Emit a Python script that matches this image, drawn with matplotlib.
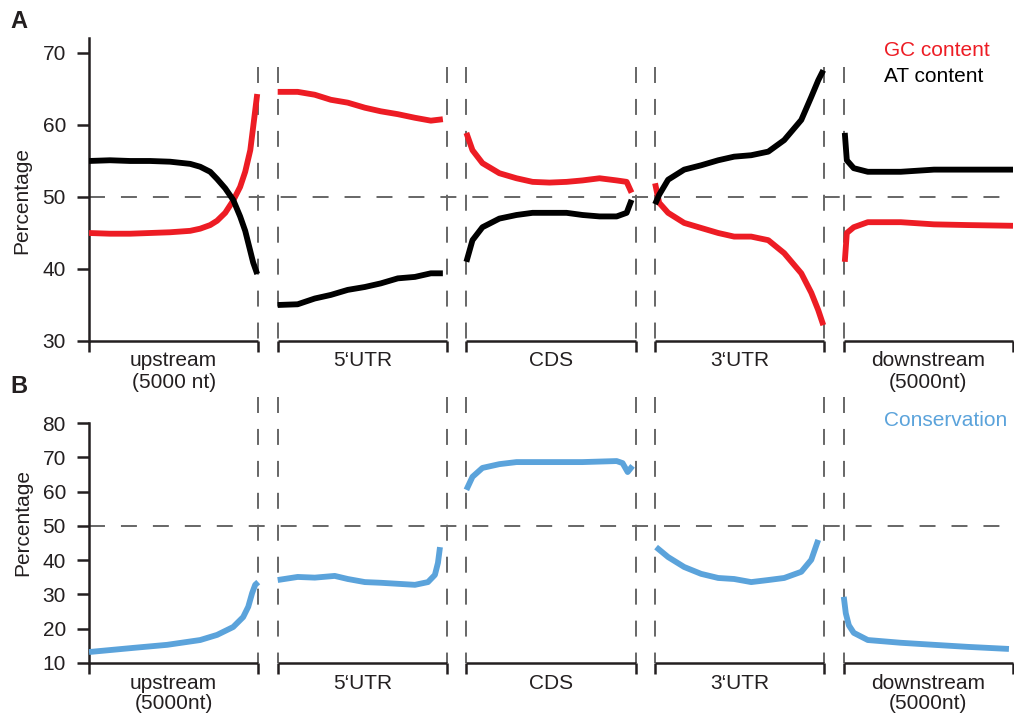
import matplotlib
matplotlib.use("Agg")
import matplotlib.pyplot as plt
import matplotlib.transforms as mtransforms
import numpy as np

plt.rcParams['font.family'] = ['Liberation Sans', 'DejaVu Sans']
plt.rcParams['lines.scale_dashes'] = False

# ---------------- data ----------------
segments_A = ["upstream\n(5000 nt)", "5\u2018UTR", "CDS", "3\u2018UTR", "downstream\n(5000nt)"]
segments_B = ["upstream\n(5000nt)", "5\u2018UTR", "CDS", "3\u2018UTR", "downstream\n(5000nt)"]

# Panel A: relative position within each segment (0..1), GC and AT percentage
a_pos_up = [0, .124, .243, .361, .479, .598, .657, .716, .757, .805, .852, .893, .923, .953, .970, .994]
gc_up = [45.0, 44.9, 44.9, 45.0, 45.1, 45.3, 45.6, 46.1, 46.7, 47.8, 49.5, 51.4, 53.5, 56.5, 59.7, 64.3]
at_up = [55.0, 55.1, 55.0, 55.0, 54.9, 54.6, 54.2, 53.5, 52.5, 51.2, 49.6, 47.3, 45.3, 42.5, 40.9, 39.3]

a_pos_5utr = [0, .118, .219, .314, .414, .515, .609, .710, .811, .905, .976]
gc_5utr = [64.6, 64.6, 64.2, 63.5, 63.1, 62.4, 61.9, 61.5, 61.0, 60.6, 60.8]
at_5utr = [35.0, 35.1, 35.9, 36.4, 37.1, 37.5, 38.0, 38.7, 38.9, 39.4, 39.4]

a_pos_cds = [0, .036, .095, .195, .296, .391, .491, .592, .686, .787, .888, .947, .976]
gc_cds = [58.9, 56.5, 54.7, 53.3, 52.6, 52.1, 52.0, 52.1, 52.3, 52.6, 52.3, 52.1, 50.6]
at_cds = [41.0, 44.0, 45.8, 47.0, 47.5, 47.8, 47.8, 47.8, 47.5, 47.3, 47.3, 47.8, 49.6]

a_pos_3utr = [0, .024, .077, .172, .272, .373, .467, .568, .669, .763, .864, .923, .964, .994]
gc_3utr = [51.9, 49.2, 47.8, 46.4, 45.7, 45.0, 44.5, 44.5, 44.0, 42.2, 39.4, 36.7, 34.3, 32.2]
at_3utr = [49.0, 50.3, 52.4, 53.8, 54.4, 55.1, 55.6, 55.8, 56.3, 57.9, 60.7, 63.9, 66.2, 67.6]

a_pos_down = [.006, .018, .059, .142, .337, .533, .734, 1.0]
gc_down = [41.0, 45.0, 45.8, 46.5, 46.5, 46.2, 46.1, 46.0]
at_down = [58.9, 55.1, 54.0, 53.5, 53.5, 53.8, 53.8, 53.8]

# Panel B: conservation
b_pos_up = [0, .260, .462, .657, .757, .852, .911, .941, .964, .982, 1.0]
cons_up = [13.2, 14.4, 15.3, 16.7, 18.2, 20.5, 23.4, 26.4, 30.4, 32.8, 33.6]

b_pos_5utr = [0, .118, .219, .337, .414, .515, .609, .710, .811, .888, .929, .947, .959]
cons_5utr = [34.2, 35.1, 34.9, 35.4, 34.5, 33.6, 33.4, 33.1, 32.8, 33.6, 35.7, 39.2, 43.8]

b_pos_cds = [0, .036, .095, .195, .296, .491, .686, .888, .923, .953, .982]
cons_cds = [60.5, 64.3, 66.9, 68.0, 68.6, 68.6, 68.6, 68.9, 68.3, 65.7, 67.5]

b_pos_3utr = [.006, .077, .172, .272, .373, .467, .568, .669, .763, .864, .923, .964]
cons_3utr = [43.8, 40.9, 38.0, 36.0, 34.8, 34.5, 33.6, 34.2, 34.8, 36.6, 40.1, 45.9]

b_pos_down = [0, .012, .030, .059, .142, .337, .533, .734, .976]
cons_down = [29.3, 24.5, 21.0, 18.8, 16.7, 15.9, 15.3, 14.7, 14.1]

ylim_A = (30, 72.08)
yticks_A = [30, 40, 50, 60, 70]
ylim_B = (10, 80)
yticks_B = [10, 20, 30, 40, 50, 60, 70, 80]

# ---------------- style ----------------
RED = '#ed1c24'
BLACK = '#000000'
BLUE = '#5ba3db'
INK = '#231f20'
GREY = '#666666'
FS = 15
GAP = 0.115
W, H = 1014, 718

fig = plt.figure(figsize=(W / 100, H / 100), dpi=100)


def seg_x(i, pos):
    return i * (1 + GAP) + np.asarray(pos)


def setup(ax, ylim, yticks, labels, dash_top, base1, base2):
    ax.set_xlim(0, 4 * (1 + GAP) + 1)
    ax.set_ylim(*ylim)
    for s in ['top', 'right', 'bottom']:
        ax.spines[s].set_visible(False)
    ax.spines['left'].set_linewidth(1.8)
    ax.spines['left'].set_color(INK)
    ax.set_yticks(yticks)
    ax.tick_params(axis='y', direction='out', length=8.6, width=1.8, color=INK,
                   labelsize=FS, labelcolor=INK, pad=8)
    bounds = []
    for i in range(5):
        bounds += [seg_x(i, 0), seg_x(i, 1)]
    ax.set_xticks(bounds)
    ax.set_xticklabels([])
    ax.tick_params(axis='x', direction='out', length=8, width=1.8, color=INK)
    trans = ax.get_xaxis_transform()
    for i in range(5):
        ax.plot([seg_x(i, 0), seg_x(i, 1)], [0, 0], transform=trans, color=INK,
                lw=1.8, clip_on=False, solid_capstyle='butt', zorder=5)
    # dashed guides
    ax.axhline(50, color=GREY, lw=1.4, dashes=(11.5, 11.5), zorder=1)
    for i in range(5):
        xs = []
        if i > 0:
            xs.append(seg_x(i, 0))
        if i < 4:
            xs.append(seg_x(i, 1))
        for x in xs:
            ax.plot([x, x], [dash_top, ylim[0]], color=GREY, lw=1.4,
                    dashes=(11.5, 11.5), clip_on=False, zorder=1)
    # segment labels
    tb = mtransforms.blended_transform_factory(ax.transData, fig.transFigure)
    for i, lab in enumerate(labels):
        lines = lab.split('\n')
        cx = seg_x(i, 0.5)
        ax.text(cx, 1 - base1 / H, lines[0], transform=tb, ha='center', va='baseline',
                fontsize=FS, color=INK)
        if len(lines) > 1:
            ax.text(cx, 1 - base2 / H, lines[1], transform=tb, ha='center', va='baseline',
                    fontsize=FS, color=INK)


axA = fig.add_axes([89 / W, 1 - 341 / H, 924 / W, (341 - 38) / H])
axB = fig.add_axes([89 / W, 1 - 663 / H, 924 / W, (663 - 423) / H])

setup(axA, ylim_A, yticks_A, segments_A, 68, 366, 388)
setup(axB, ylim_B, yticks_B, segments_B, 87.6, 689, 709)

lw = 4.2
A_series = [(a_pos_up, gc_up, at_up), (a_pos_5utr, gc_5utr, at_5utr),
            (a_pos_cds, gc_cds, at_cds), (a_pos_3utr, gc_3utr, at_3utr),
            (a_pos_down, gc_down, at_down)]
for i, (p, gc, at) in enumerate(A_series):
    axA.plot(seg_x(i, p), gc, color=RED, lw=lw, solid_capstyle='butt', zorder=3)
    axA.plot(seg_x(i, p), at, color=BLACK, lw=lw, solid_capstyle='butt', zorder=3)

B_series = [(b_pos_up, cons_up), (b_pos_5utr, cons_5utr), (b_pos_cds, cons_cds),
            (b_pos_3utr, cons_3utr), (b_pos_down, cons_down)]
for i, (p, c) in enumerate(B_series):
    axB.plot(seg_x(i, p), c, color=BLUE, lw=lw, solid_capstyle='butt', zorder=3)

# y labels
fig.text(22 / W, 1 - 200 / H, "Percentage", rotation=90, ha='center', va='center',
         fontsize=FS, color=INK)
fig.text(23 / W, 1 - 522 / H, "Percentage", rotation=90, ha='center', va='center',
         fontsize=FS, color=INK)

# legend-like text
fig.text(884 / W, 1 - 56 / H, "GC content", color=RED, fontsize=FS, ha='left', va='baseline')
fig.text(884 / W, 1 - 82 / H, "AT content", color=BLACK, fontsize=FS, ha='left', va='baseline')
fig.text(884 / W, 1 - 426 / H, "Conservation", color=BLUE, fontsize=FS, ha='left', va='baseline')

# panel letters
fig.text(10 / W, 1 - 28 / H, "A", fontsize=17, fontweight='bold', color=INK, va='baseline')
fig.text(10 / W, 1 - 393 / H, "B", fontsize=17, fontweight='bold', color=INK, va='baseline')

fig.savefig("out.png", dpi=100)
